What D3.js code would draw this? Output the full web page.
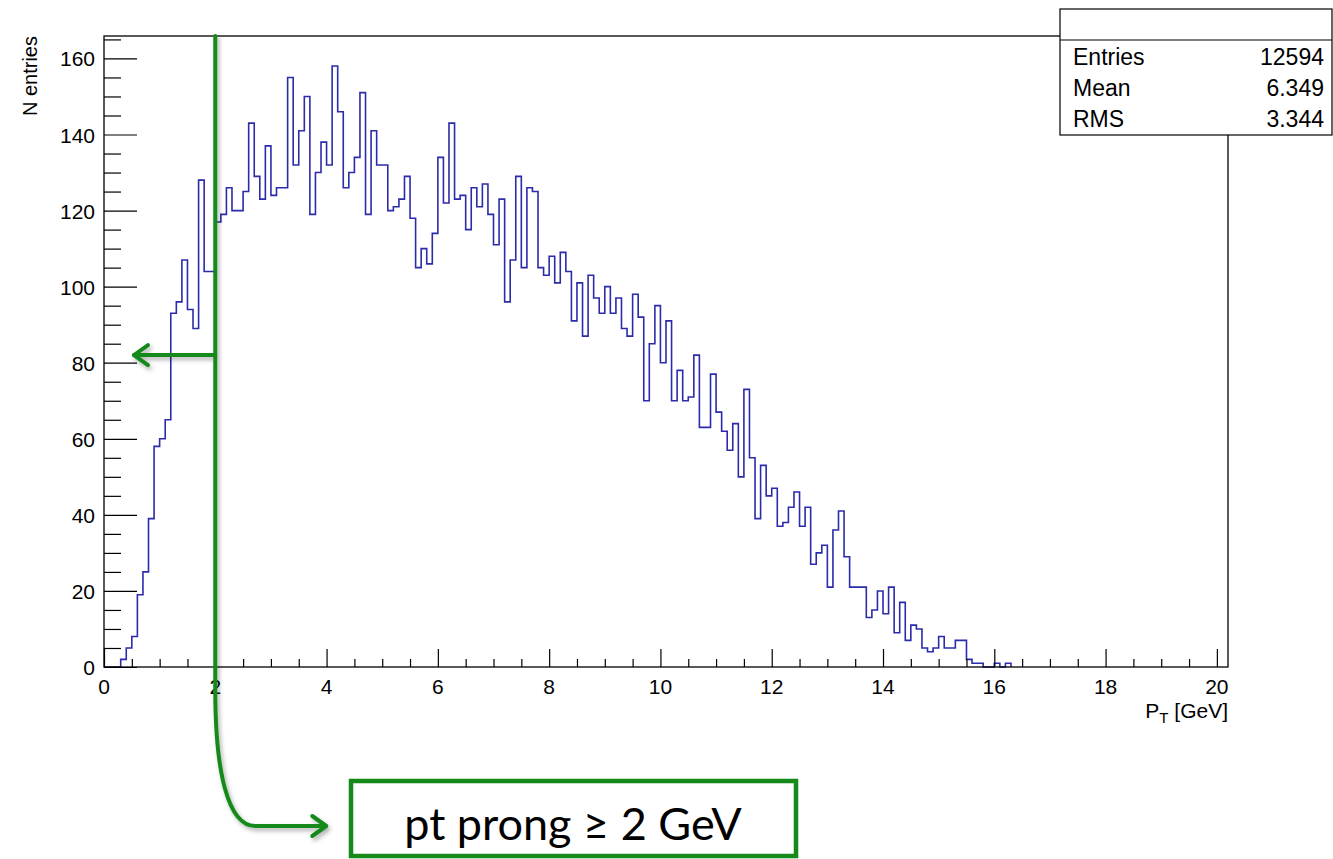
<!DOCTYPE html>
<html>
<head>
<meta charset="utf-8">
<script src="https://cdn.jsdelivr.net/npm/d3@7"></script>
<style>
  body { margin: 0; background: #fff; }
  svg { display: block; }
</style>
</head>
<body>
<div id="chart"></div>
<script>
// bin contents, 0.1 GeV wide bins starting at 0
var binWidth = 0.1;
var counts = [
  0, 0, 0, 2, 5, 8, 19, 25, 39, 58,
  60, 65, 93, 96, 107, 94, 89, 128, 104, 104,
  117, 119, 126, 120, 120, 125, 143, 129, 123, 137,
  124, 126, 126, 155, 132, 141, 150, 119, 130, 138,
  132, 158, 146, 126, 130, 134, 151, 119, 141, 132,
  132, 120, 121, 123, 129, 118, 105, 110, 106, 114,
  134, 122, 143, 123, 124, 115, 126, 121, 127, 119,
  111, 123, 96, 107, 129, 105, 126, 125, 105, 103,
  108, 101, 109, 104, 91, 101, 87, 103, 97, 93,
  100, 93, 97, 89, 87, 98, 92, 70, 85, 95,
  80, 91, 70, 78, 70, 71, 82, 63, 63, 77,
  67, 62, 57, 64, 50, 73, 55, 39, 53, 45,
  47, 37, 38, 42, 46, 37, 42, 27, 30, 32,
  21, 36, 41, 29, 21, 21, 21, 13, 15, 20,
  14, 21, 9, 17, 7, 11, 10, 5, 4, 5,
  8, 5, 5, 7, 7, 2, 1, 1, 0, 0,
  1, 0, 1
];
var xMax = 20.2;
var yMax = 165.9;
var xTicks = [0, 2, 4, 6, 8, 10, 12, 14, 16, 18, 20];
var yTicks = [0, 20, 40, 60, 80, 100, 120, 140, 160];
var statNames = ["Entries", "Mean", "RMS"];
var statValues = ["12594", "6.349", "3.344"];
var cutValue = 2;      // pt prong cut, GeV
var cutArrowY = 82;    // height of the left arrow
var cutLabel = "pt prong \u2265 2 GeV";

var width = 1333; var height = 859;
var frame = { left: 104, right: 1228, top: 36, bottom: 667 };
var green = "#15891a";
var blue = "#2b2bab";
var font = "'Liberation Sans', Arial, Helvetica, sans-serif";

var svg = d3.select("#chart").append("svg")
    .attr("width", width)
    .attr("height", height);

var defs = svg.append("defs");
var shadow = defs.append("filter")
    .attr("id", "shadow")
    .attr("x", "-20%").attr("y", "-20%")
    .attr("width", "140%").attr("height", "140%");
shadow.append("feDropShadow")
    .attr("dx", 2).attr("dy", 3)
    .attr("stdDeviation", 2)
    .attr("flood-color", "#000")
    .attr("flood-opacity", 0.3);

var x = d3.scaleLinear().domain([0, xMax]).range([frame.left, frame.right]);
var y = d3.scaleLinear().domain([0, yMax]).range([frame.bottom, frame.top]);

// histogram outline (drawn first, the frame goes on top of the zero bins)
var pts = [[0, 0]];
counts.forEach(function (c, i) {
  pts.push([i * binWidth, c]);
  pts.push([(i + 1) * binWidth, c]);
});
pts.push([counts.length * binWidth, 0]);

var line = d3.line()
    .x(function (d) { return x(d[0]); })
    .y(function (d) { return y(d[1]); });

svg.append("path")
    .attr("d", line(pts))
    .attr("fill", "none")
    .attr("stroke", blue)
    .attr("stroke-width", 1.6);

// frame
svg.append("rect")
    .attr("x", frame.left)
    .attr("y", frame.top)
    .attr("width", frame.right - frame.left)
    .attr("height", frame.bottom - frame.top)
    .attr("fill", "none")
    .attr("stroke", "#000")
    .attr("stroke-width", 1.3);

// x axis ticks (major every 2, minor every 0.5)
var xAxis = d3.axisBottom(x)
    .tickValues(d3.range(0, 20.01, 0.5))
    .tickSize(0)
    .tickFormat("");
var xg = svg.append("g").attr("transform", "translate(0," + frame.bottom + ")").call(xAxis);
xg.select(".domain").remove();
xg.selectAll(".tick line")
    .attr("y2", function (d) { return d % 2 === 0 ? -18 : -8; })
    .attr("stroke", "#000")
    .attr("stroke-width", 1.2);

svg.append("g").selectAll("text")
    .data(xTicks)
    .enter().append("text")
    .attr("x", function (d) { return x(d); })
    .attr("y", frame.bottom + 27)
    .attr("text-anchor", "middle")
    .attr("font-family", font)
    .attr("font-size", 21)
    .text(function (d) { return d; });

// y axis ticks (major every 20, minor every 5)
var yAxis = d3.axisLeft(y)
    .tickValues(d3.range(0, 166, 5))
    .tickSize(0)
    .tickFormat("");
var yg = svg.append("g").attr("transform", "translate(" + frame.left + ",0)").call(yAxis);
yg.select(".domain").remove();
yg.selectAll(".tick line")
    .attr("x2", function (d) { return d % 20 === 0 ? 33 : 17; })
    .attr("stroke", "#000")
    .attr("stroke-width", 1.2);

svg.append("g").selectAll("text")
    .data(yTicks)
    .enter().append("text")
    .attr("x", frame.left - 9)
    .attr("y", function (d) { return y(d) + 8; })
    .attr("text-anchor", "end")
    .attr("font-family", font)
    .attr("font-size", 21)
    .text(function (d) { return d; });

// axis titles
svg.append("text")
    .attr("transform", "translate(37," + frame.top + ") rotate(-90)")
    .attr("text-anchor", "end")
    .attr("font-family", font)
    .attr("font-size", 20)
    .text("N entries");

var xt = svg.append("text")
    .attr("x", frame.right)
    .attr("y", 718)
    .attr("text-anchor", "end")
    .attr("font-family", font)
    .attr("font-size", 21);
xt.append("tspan").text("P");
xt.append("tspan").attr("font-size", 15).attr("dy", 5).text("T");
xt.append("tspan").attr("dy", -5).text(" [GeV]");

// stats box
var sb = { x: 1060, y: 9, w: 272, h: 126, head: 31 };
svg.append("rect")
    .attr("x", sb.x).attr("y", sb.y)
    .attr("width", sb.w).attr("height", sb.h)
    .attr("fill", "#fff")
    .attr("stroke", "#000")
    .attr("stroke-width", 1.2);
svg.append("line")
    .attr("x1", sb.x).attr("x2", sb.x + sb.w)
    .attr("y1", sb.y + sb.head).attr("y2", sb.y + sb.head)
    .attr("stroke", "#000")
    .attr("stroke-width", 1.2);

var rows = svg.append("g").selectAll("g")
    .data(statNames)
    .enter().append("g")
    .attr("font-family", font)
    .attr("font-size", 23);
rows.append("text")
    .attr("x", sb.x + 13)
    .attr("y", function (d, i) { return 65 + i * 31; })
    .text(function (d) { return d; });
rows.append("text")
    .attr("x", sb.x + 264)
    .attr("y", function (d, i) { return 65 + i * 31; })
    .attr("text-anchor", "end")
    .text(function (d, i) { return statValues[i]; });

// cut annotation
var ann = svg.append("g")
    .attr("fill", "none")
    .attr("stroke", green)
    .attr("stroke-width", 4)
    .attr("stroke-linecap", "round")
    .attr("stroke-linejoin", "round")
    .attr("filter", "url(#shadow)");

var cx = x(cutValue);
ann.append("path")
    .attr("d", "M" + cx + "," + frame.top + " V" + 690 +
               " C" + cx + ",770 " + (cx + 12) + ",826 " + (cx + 40) + ",826 H" + (cx + 110));
ann.append("path")
    .attr("d", "M" + (cx + 97) + ",816 L" + (cx + 111) + ",826 L" + (cx + 97) + ",836");

var ay = y(cutArrowY);
ann.append("path")
    .attr("d", "M" + cx + "," + ay + " H" + (frame.left + 30));
ann.append("path")
    .attr("d", "M" + (frame.left + 44) + "," + (ay - 10) + " L" + (frame.left + 30) + "," + ay +
               " L" + (frame.left + 44) + "," + (ay + 10));

svg.append("rect")
    .attr("x", 351).attr("y", 781)
    .attr("width", 445).attr("height", 75)
    .attr("fill", "#fff")
    .attr("stroke", green)
    .attr("stroke-width", 4.5);

svg.append("text")
    .attr("x", 573)
    .attr("y", 840)
    .attr("text-anchor", "middle")
    .attr("font-family", "Lato, 'Open Sans', sans-serif")
    .attr("font-size", 45)
    .attr("fill", "#000")
    .text(cutLabel);
</script>
</body>
</html>
